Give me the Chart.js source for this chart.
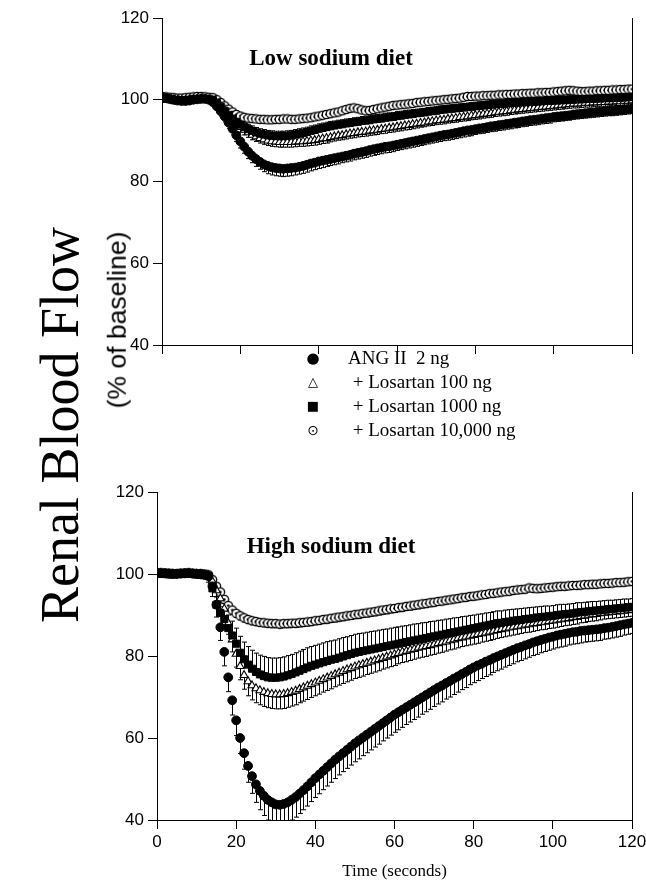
<!DOCTYPE html>
<html><head><meta charset="utf-8">
<script src="https://cdn.jsdelivr.net/npm/chart.js@4.4.1/dist/chart.umd.min.js"></script>
<style>
html,body{margin:0;padding:0;background:#fff;}
body{width:646px;height:886px;position:relative;overflow:hidden;}
canvas{position:absolute;left:0;}
#c1{top:0;} #c2{top:470px;}
.rot{position:absolute;white-space:nowrap;transform:translate(-50%,-50%) rotate(-90deg);color:#000;line-height:1;}
#ytitle{left:60px;top:425px;font-family:"Liberation Serif","Times New Roman",serif;font-size:54px;}
#ysub{left:117px;top:320px;font-family:"Liberation Sans",Arial,sans-serif;font-size:26.5px;}
.ptitle{position:absolute;font-family:"Liberation Serif","Times New Roman",serif;font-weight:bold;font-size:23px;transform:translate(-50%,-50%);white-space:nowrap;line-height:1;}
#t1{left:331px;top:57px;} #t2{left:331px;top:545px;}
#legend{position:absolute;left:300px;top:346px;font-family:"Liberation Serif","Times New Roman",serif;font-size:19px;line-height:24px;}
#legend .row{display:flex;align-items:center;height:24px;}
#legend .mk{width:26px;text-align:center;font-family:"DejaVu Sans",sans-serif;font-size:13px;margin-right:22px;}
</style></head>
<body>
<canvas id="c1" width="646" height="370"></canvas>
<canvas id="c2" width="646" height="416"></canvas>
<div id="ytitle" class="rot">Renal Blood Flow</div>
<div id="ysub" class="rot">(% of baseline)</div>
<div id="t1" class="ptitle">Low sodium diet</div>
<div id="t2" class="ptitle">High sodium diet</div>
<div id="legend">
<div class="row"><span class="mk" style="font-size:15px">●</span><span>ANG II&nbsp; 2 ng</span></div>
<div class="row"><span class="mk">△</span><span>&nbsp;+ Losartan 100 ng</span></div>
<div class="row"><span class="mk">■</span><span>&nbsp;+ Losartan 1000 ng</span></div>
<div class="row"><span class="mk" style="font-size:14px">⊙</span><span>&nbsp;+ Losartan 10,000 ng</span></div>
</div>
<script>
// ---- data ----
const seconds = [0,1,2,3,4,5,6,7,8,9,10,11,12,13,14,15,16,17,18,19,20,21,22,23,24,25,26,27,28,29,30,31,32,33,34,35,36,37,38,39,40,41,42,43,44,45,46,47,48,49,50,51,52,53,54,55,56,57,58,59,60,61,62,63,64,65,66,67,68,69,70,71,72,73,74,75,76,77,78,79,80,81,82,83,84,85,86,87,88,89,90,91,92,93,94,95,96,97,98,99,100,101,102,103,104,105,106,107,108,109,110,111,112,113,114,115,116,117,118,119,120];
const xTicks = [0,20,40,60,80,100,120];
const yTicks = [40,60,80,100,120];
const seriesNames = ["ANG II  2 ng","+ Losartan 100 ng","+ Losartan 1000 ng","+ Losartan 10,000 ng"];

// Low sodium diet
const lowAng = [100.5,100.4,100.2,100.0,99.8,99.7,99.7,99.8,100.0,100.1,
100.2,100.2,100.0,99.4,98.4,97.2,95.9,94.4,92.9,91.3,
89.8,88.5,87.3,86.3,85.5,84.8,84.2,83.8,83.5,83.3,
83.2,83.1,83.2,83.3,83.4,83.6,83.8,84.1,84.4,84.6,
84.9,85.1,85.3,85.5,85.7,85.9,86.1,86.3,86.5,86.8,
87.0,87.2,87.4,87.7,87.9,88.1,88.3,88.5,88.6,88.8,
89.0,89.2,89.4,89.6,89.8,90.0,90.2,90.4,90.6,90.8,
91.0,91.2,91.4,91.5,91.7,91.9,92.1,92.3,92.5,92.6,
92.8,93.0,93.1,93.3,93.5,93.6,93.8,93.9,94.1,94.2,
94.4,94.5,94.7,94.8,95.0,95.1,95.2,95.4,95.5,95.6,
95.8,95.9,96.0,96.1,96.2,96.4,96.5,96.6,96.7,96.8,
96.9,97.0,97.1,97.2,97.3,97.3,97.4,97.5,97.6,97.7,
97.8];
const lowAngErr = [0.6,0.6,0.6,0.6,0.6,0.6,0.6,0.6,0.6,0.6,
0.6,0.6,0.6,0.8,1.0,1.2,1.3,1.4,1.5,1.5,
1.6,1.6,1.7,1.7,1.8,1.8,1.8,1.9,1.9,1.9,
1.9,1.9,1.9,1.9,1.8,1.8,1.8,1.8,1.8,1.7,
1.7,1.7,1.6,1.6,1.6,1.6,1.5,1.5,1.5,1.5,
1.5,1.5,1.5,1.5,1.5,1.5,1.5,1.5,1.5,1.5,
1.4,1.4,1.4,1.4,1.4,1.4,1.4,1.4,1.4,1.4,
1.4,1.4,1.4,1.4,1.4,1.4,1.4,1.4,1.4,1.4,
1.3,1.3,1.3,1.3,1.3,1.3,1.3,1.3,1.3,1.3,
1.3,1.3,1.3,1.3,1.3,1.3,1.3,1.3,1.3,1.3,
1.2,1.2,1.2,1.2,1.2,1.2,1.2,1.2,1.2,1.2,
1.2,1.2,1.2,1.2,1.2,1.2,1.2,1.2,1.2,1.2,
1.2];
const lowTri = [100.4,100.3,100.1,100.0,99.9,99.8,99.9,100.0,100.1,100.2,
100.3,100.2,100.1,99.8,99.0,98.0,97.0,96.0,95.0,94.1,
93.3,92.6,92.0,91.4,91.0,90.6,90.3,90.0,89.8,89.7,
89.6,89.6,89.6,89.6,89.7,89.8,89.8,89.9,90.0,90.1,
90.3,90.5,90.6,90.8,91.0,91.2,91.3,91.5,91.7,91.8,
92.0,92.1,92.2,92.4,92.5,92.6,92.8,92.9,93.1,93.2,
93.4,93.5,93.7,93.8,94.0,94.1,94.3,94.4,94.6,94.7,
94.9,95.0,95.1,95.3,95.4,95.5,95.7,95.8,95.9,96.1,
96.2,96.3,96.5,96.6,96.7,96.9,97.0,97.1,97.2,97.4,
97.5,97.6,97.7,97.8,97.9,98.0,98.1,98.2,98.3,98.4,
98.5,98.6,98.7,98.8,98.9,99.0,99.0,99.1,99.2,99.2,
99.3,99.3,99.4,99.4,99.5,99.5,99.6,99.6,99.7,99.7,
99.8];
const lowTriErr = [0.5,0.5,0.5,0.5,0.5,0.5,0.5,0.5,0.5,0.5,
0.5,0.5,0.5,0.6,0.8,0.9,1.0,1.1,1.2,1.2,
1.2,1.2,1.2,1.2,1.2,1.2,1.2,1.2,1.2,1.2,
1.2,1.2,1.2,1.2,1.2,1.2,1.2,1.2,1.2,1.2,
1.2,1.2,1.2,1.1,1.1,1.1,1.1,1.1,1.1,1.1,
1.1,1.1,1.1,1.1,1.1,1.1,1.1,1.1,1.1,1.1,
1.1,1.1,1.1,1.1,1.1,1.0,1.0,1.0,1.0,1.0,
1.0,1.0,1.0,1.0,1.0,1.0,1.0,1.0,1.0,1.0,
1.0,1.0,1.0,1.0,1.0,1.0,1.0,1.0,1.0,1.0,
1.0,1.0,1.0,1.0,1.0,1.0,1.0,1.0,1.0,1.0,
1.0,1.0,1.0,1.0,1.0,1.0,1.0,1.0,1.0,1.0,
1.0,1.0,1.0,1.0,1.0,1.0,1.0,1.0,1.0,1.0,
1.0];
const lowSq = [100.3,100.2,100.1,99.9,99.8,99.8,99.9,100.0,100.1,100.2,
100.2,100.2,100.1,99.9,99.2,98.3,97.3,96.3,95.4,94.6,
93.9,93.3,92.8,92.4,92.0,91.7,91.5,91.3,91.2,91.1,
91.1,91.1,91.2,91.3,91.5,91.7,91.9,92.1,92.4,92.6,
92.9,93.1,93.3,93.5,93.7,93.9,94.0,94.2,94.3,94.5,
94.6,94.8,94.9,95.0,95.2,95.3,95.4,95.6,95.7,95.8,
96.0,96.1,96.3,96.4,96.5,96.7,96.8,96.9,97.1,97.2,
97.3,97.5,97.6,97.7,97.8,97.9,98.0,98.1,98.2,98.3,
98.4,98.5,98.6,98.7,98.8,98.9,99.0,99.0,99.1,99.2,
99.3,99.3,99.4,99.4,99.5,99.5,99.6,99.6,99.7,99.7,
99.8,99.8,99.9,99.9,100.0,100.0,100.1,100.1,100.2,100.2,
100.2,100.3,100.3,100.4,100.4,100.4,100.5,100.5,100.6,100.6,
100.7];
const lowSqErr = [0.5,0.5,0.5,0.5,0.5,0.5,0.5,0.5,0.5,0.5,
0.5,0.5,0.5,0.6,0.8,0.9,1.0,1.1,1.2,1.2,
1.2,1.2,1.2,1.2,1.2,1.2,1.2,1.2,1.2,1.2,
1.2,1.2,1.2,1.2,1.2,1.2,1.2,1.2,1.2,1.2,
1.2,1.2,1.2,1.2,1.1,1.1,1.1,1.1,1.1,1.1,
1.1,1.1,1.1,1.1,1.1,1.1,1.1,1.1,1.1,1.1,
1.1,1.1,1.1,1.1,1.1,1.0,1.0,1.0,1.0,1.0,
1.0,1.0,1.0,1.0,1.0,1.0,1.0,1.0,1.0,1.0,
1.0,1.0,1.0,1.0,1.0,1.0,1.0,1.0,1.0,1.0,
1.0,1.0,1.0,1.0,1.0,1.0,1.0,1.0,1.0,1.0,
1.0,1.0,1.0,1.0,1.0,1.0,1.0,1.0,1.0,1.0,
1.0,1.0,1.0,1.0,1.0,1.0,1.0,1.0,1.0,1.0,
1.0];
const lowCd = [100.8,100.7,100.6,100.5,100.4,100.4,100.5,100.6,100.7,100.8,
100.8,100.7,100.6,100.5,100.0,99.3,98.5,97.7,97.0,96.4,
96.0,95.7,95.5,95.4,95.3,95.2,95.2,95.1,95.1,95.2,
95.2,95.3,95.3,95.2,95.2,95.3,95.4,95.5,95.6,95.8,
96.0,96.2,96.4,96.6,96.8,97.0,97.3,97.6,97.9,98.0,
97.8,97.5,97.3,97.4,97.6,97.8,98.0,98.2,98.4,98.6,
98.7,98.8,98.9,99.0,99.1,99.3,99.4,99.5,99.6,99.7,
99.8,99.9,100.0,100.1,100.2,100.3,100.4,100.6,100.8,100.8,
100.9,100.9,101.0,101.0,101.1,101.1,101.2,101.2,101.3,101.3,
101.4,101.4,101.5,101.5,101.6,101.6,101.7,101.7,101.8,101.8,
101.9,102.0,102.1,102.2,102.3,102.2,102.1,102.0,102.0,102.1,
102.1,102.2,102.2,102.3,102.3,102.4,102.4,102.5,102.5,102.6,
102.6];
const lowCdErr = [0.5,0.5,0.5,0.5,0.5,0.5,0.5,0.5,0.5,0.5,
0.5,0.5,0.5,0.5,0.6,0.7,0.7,0.8,0.8,0.8,
0.8,0.8,0.8,0.8,0.8,0.8,0.8,0.8,0.8,0.8,
0.8,0.8,0.8,0.8,0.8,0.8,0.8,0.8,0.8,0.8,
0.8,0.8,0.8,0.8,0.8,0.8,0.8,0.8,0.8,0.8,
0.8,0.8,0.8,0.8,0.8,0.8,0.8,0.8,0.8,0.8,
0.8,0.8,0.8,0.8,0.8,0.8,0.8,0.8,0.8,0.8,
0.7,0.7,0.7,0.7,0.7,0.7,0.7,0.7,0.7,0.7,
0.7,0.7,0.7,0.7,0.7,0.7,0.7,0.7,0.7,0.7,
0.7,0.7,0.7,0.7,0.7,0.7,0.7,0.7,0.7,0.7,
0.7,0.7,0.7,0.7,0.7,0.7,0.7,0.7,0.7,0.7,
0.7,0.7,0.7,0.7,0.7,0.7,0.7,0.7,0.7,0.7,
0.7];

// High sodium diet
const highAng = [100.3,100.2,100.2,100.1,100.0,100.0,100.1,100.2,100.2,100.1,
100.0,99.9,99.8,99.5,97.0,92.5,87.0,81.0,74.8,69.2,
64.3,60.0,56.3,53.2,50.7,48.7,47.1,45.9,44.9,44.3,
43.8,43.7,43.9,44.3,44.9,45.6,46.4,47.3,48.2,49.2,
50.2,51.1,52.0,52.9,53.8,54.7,55.5,56.3,57.1,57.9,
58.7,59.4,60.1,60.8,61.5,62.2,62.9,63.6,64.3,65.0,
65.7,66.3,66.9,67.5,68.1,68.7,69.3,69.9,70.5,71.1,
71.7,72.3,72.8,73.4,73.9,74.5,75.0,75.6,76.1,76.7,
77.2,77.7,78.1,78.6,79.0,79.5,79.9,80.3,80.7,81.1,
81.5,81.9,82.2,82.6,82.9,83.3,83.6,83.9,84.2,84.5,
84.7,85.0,85.2,85.4,85.6,85.8,85.9,86.1,86.2,86.3,
86.4,86.5,86.6,86.8,86.9,87.1,87.3,87.5,87.7,87.9,
88.1];
const highAngErr = [0.8,0.8,0.8,0.8,0.8,0.8,0.8,0.8,0.8,0.8,
0.8,0.8,0.9,1.5,2.5,3.0,3.2,3.4,3.5,3.6,
3.7,3.8,3.9,4.0,4.2,4.4,4.6,4.8,4.9,5.0,
5.0,5.0,5.0,5.0,4.9,4.9,4.8,4.8,4.8,4.7,
4.7,4.7,4.6,4.6,4.6,4.6,4.5,4.5,4.5,4.5,
4.5,4.5,4.4,4.4,4.4,4.4,4.4,4.3,4.3,4.3,
4.3,4.3,4.3,4.2,4.2,4.2,4.2,4.1,4.1,4.1,
4.0,4.0,4.0,3.9,3.9,3.9,3.8,3.8,3.8,3.7,
3.7,3.7,3.6,3.6,3.6,3.5,3.5,3.5,3.4,3.4,
3.4,3.3,3.3,3.3,3.2,3.2,3.2,3.1,3.1,3.1,
3.0,3.0,3.0,3.0,2.9,2.9,2.9,2.9,2.8,2.8,
2.8,2.8,2.8,2.7,2.7,2.7,2.7,2.7,2.6,2.6,
2.6];
const highTri = [100.2,100.1,100.1,100.0,100.0,99.9,100.0,100.1,100.1,100.0,
100.0,99.9,99.8,99.6,98.2,96.0,94.0,91.5,88.0,84.0,
80.5,77.5,75.3,73.8,72.8,72.1,71.6,71.2,70.9,70.7,
70.6,70.6,70.7,70.9,71.2,71.5,71.9,72.3,72.7,73.1,
73.5,73.9,74.3,74.7,75.1,75.5,75.9,76.3,76.7,77.0,
77.4,77.7,78.0,78.3,78.6,78.9,79.2,79.5,79.8,80.1,
80.4,80.7,81.0,81.2,81.5,81.7,82.0,82.2,82.4,82.6,
82.8,83.1,83.3,83.5,83.8,84.0,84.3,84.5,84.7,84.9,
85.1,85.3,85.5,85.7,85.9,86.1,86.3,86.5,86.7,86.9,
87.1,87.2,87.4,87.6,87.7,87.9,88.0,88.2,88.3,88.5,
88.6,88.8,88.9,89.1,89.2,89.4,89.5,89.7,89.8,90.0,
90.1,90.2,90.4,90.5,90.6,90.7,90.8,90.9,91.0,91.1,
91.2];
const highTriErr = [0.5,0.5,0.5,0.5,0.5,0.5,0.5,0.5,0.5,0.5,
0.5,0.5,0.6,0.8,1.2,1.6,2.0,2.4,2.7,3.0,
3.2,3.3,3.4,3.5,3.5,3.5,3.5,3.5,3.5,3.5,
3.5,3.5,3.5,3.4,3.4,3.4,3.3,3.3,3.3,3.2,
3.2,3.2,3.1,3.1,3.1,3.0,3.0,3.0,3.0,2.9,
2.9,2.9,2.9,2.8,2.8,2.8,2.8,2.7,2.7,2.7,
2.7,2.6,2.6,2.6,2.6,2.5,2.5,2.5,2.5,2.4,
2.4,2.4,2.4,2.3,2.3,2.3,2.3,2.2,2.2,2.2,
2.2,2.2,2.1,2.1,2.1,2.1,2.0,2.0,2.0,2.0,
2.0,1.9,1.9,1.9,1.9,1.9,1.8,1.8,1.8,1.8,
1.8,1.8,1.7,1.7,1.7,1.7,1.7,1.6,1.6,1.6,
1.6,1.6,1.6,1.5,1.5,1.5,1.5,1.5,1.5,1.5,
1.5];
const highSq = [100.1,100.0,100.0,99.9,99.9,100.0,100.0,100.1,100.0,100.0,
99.9,99.8,99.7,99.5,96.5,92.5,90.5,89.0,86.8,85.0,
83.0,80.8,79.2,77.9,76.9,76.1,75.5,75.1,74.8,74.7,
74.7,74.8,75.0,75.3,75.6,76.0,76.4,76.8,77.2,77.6,
77.9,78.2,78.5,78.8,79.1,79.3,79.6,79.9,80.2,80.5,
80.8,81.0,81.2,81.4,81.6,81.8,82.0,82.2,82.4,82.6,
82.8,83.0,83.2,83.4,83.6,83.8,84.0,84.2,84.4,84.6,
84.8,85.0,85.2,85.4,85.6,85.8,86.0,86.2,86.4,86.6,
86.8,87.0,87.2,87.4,87.6,87.8,88.0,88.1,88.3,88.4,
88.6,88.7,88.8,89.0,89.1,89.2,89.4,89.5,89.6,89.7,
89.8,90.0,90.1,90.2,90.3,90.4,90.6,90.7,90.8,90.9,
91.0,91.1,91.2,91.3,91.4,91.5,91.6,91.7,91.8,91.9,
92.0];
const highSqErr = [0.5,0.5,0.5,0.5,0.5,0.5,0.5,0.5,0.5,0.5,
0.5,0.5,0.6,0.8,1.5,2.0,2.4,2.8,3.2,3.5,
3.8,4.0,4.2,4.4,4.5,4.6,4.7,4.8,4.8,4.8,
4.8,4.8,4.8,4.8,4.8,4.8,4.8,4.8,4.8,4.7,
4.7,4.7,4.7,4.7,4.6,4.6,4.6,4.6,4.5,4.5,
4.5,4.5,4.4,4.4,4.4,4.3,4.3,4.3,4.2,4.2,
4.2,4.1,4.1,4.0,4.0,4.0,3.9,3.9,3.8,3.8,
3.7,3.7,3.6,3.6,3.5,3.5,3.4,3.4,3.3,3.3,
3.2,3.2,3.1,3.1,3.0,3.0,3.0,2.9,2.9,2.9,
2.8,2.8,2.8,2.7,2.7,2.7,2.6,2.6,2.6,2.5,
2.5,2.5,2.5,2.4,2.4,2.4,2.4,2.3,2.3,2.3,
2.3,2.2,2.2,2.2,2.2,2.1,2.1,2.1,2.1,2.0,
2.0];
const highCd = [100.3,100.3,100.2,100.2,100.1,100.1,100.2,100.2,100.3,100.2,
100.1,100.1,100.0,99.8,98.6,97.0,95.6,93.8,92.3,91.2,
90.4,89.8,89.3,88.9,88.6,88.4,88.2,88.1,88.0,87.9,
87.9,87.8,87.9,87.9,88.0,88.0,88.1,88.2,88.3,88.4,
88.6,88.7,88.9,89.0,89.2,89.3,89.5,89.6,89.8,89.9,
90.1,90.2,90.4,90.5,90.7,90.8,91.0,91.2,91.3,91.5,
91.6,91.8,91.9,92.1,92.2,92.4,92.5,92.7,92.8,93.0,
93.1,93.3,93.4,93.6,93.7,93.9,94.0,94.2,94.3,94.5,
94.6,94.7,94.9,95.0,95.2,95.3,95.4,95.6,95.7,95.8,
96.0,96.1,96.2,96.3,96.6,96.5,96.4,96.5,96.6,96.7,
96.8,96.9,97.0,97.0,97.1,97.2,97.2,97.3,97.4,97.4,
97.5,97.5,97.6,97.7,97.7,97.8,97.9,97.9,98.0,98.1,
98.2];
const highCdErr = [0.5,0.5,0.5,0.5,0.5,0.5,0.5,0.5,0.5,0.5,
0.5,0.5,0.5,0.6,0.8,0.9,1.0,1.0,1.0,1.0,
1.0,1.0,1.0,1.0,1.0,1.0,1.0,1.0,1.0,1.0,
1.0,1.0,1.0,1.0,1.0,1.0,1.0,1.0,1.0,1.0,
1.0,1.0,1.0,1.0,1.0,1.0,1.0,1.0,1.0,1.0,
1.0,1.0,1.0,1.0,1.0,1.0,1.0,1.0,1.0,1.0,
1.0,1.0,1.0,1.0,1.0,1.0,1.0,1.0,1.0,1.0,
0.9,0.9,0.9,0.9,0.9,0.9,0.9,0.9,0.9,0.9,
0.9,0.9,0.9,0.9,0.9,0.9,0.9,0.9,0.9,0.9,
0.9,0.9,0.9,0.9,0.9,0.9,0.9,0.9,0.9,0.9,
0.9,0.9,0.9,0.9,0.9,0.9,0.9,0.9,0.9,0.9,
0.9,0.9,0.9,0.9,0.9,0.9,0.9,0.9,0.9,0.9,
0.9];

// ---- markers ----
function dotCircle(){
  const c=document.createElement('canvas'); c.width=11; c.height=11;
  const g=c.getContext('2d');
  g.fillStyle='#fff'; g.strokeStyle='#000'; g.lineWidth=1.3;
  g.beginPath(); g.arc(5.5,5.5,4.2,0,Math.PI*2); g.fill(); g.stroke();
  g.fillStyle='#000'; g.beginPath(); g.arc(5.5,5.5,1.3,0,Math.PI*2); g.fill();
  return c;
}
const cdImg = dotCircle();

function pts(vals){ return seconds.map((t,i)=>({x:t,y:vals[i]})); }

function makeSets(ang,angE,tri,triE,sq,sqE,cd,cdE){
  return [
    {label:seriesNames[0],data:pts(ang),errors:angE,errDir:-1,pointStyle:'circle',pointRadius:4.4,backgroundColor:'#000',borderColor:'#000',borderWidth:1,order:0},
    {label:seriesNames[1],data:pts(tri),errors:triE,errDir:-1,pointStyle:'triangle',pointRadius:4.6,backgroundColor:'#fff',borderColor:'#000',borderWidth:1.1,order:2},
    {label:seriesNames[2],data:pts(sq),errors:sqE,errDir:1,pointStyle:'rect',pointRadius:5,backgroundColor:'#000',borderColor:'#000',borderWidth:1,order:1},
    {label:seriesNames[3],data:pts(cd),errors:cdE,errDir:-1,pointStyle:cdImg,pointRadius:4.5,backgroundColor:'#fff',borderColor:'#000',borderWidth:1,order:3}
  ];
}

const errorBars = {
  id:'errorBars',
  beforeDatasetsDraw(chart){
    const {ctx, chartArea:a, scales:{x,y}} = chart;
    ctx.save();
    ctx.beginPath(); ctx.rect(a.left,a.top,a.right-a.left,a.bottom-a.top); ctx.clip();
    ctx.strokeStyle='#000'; ctx.lineWidth=1;
    chart.data.datasets.forEach(ds=>{
      ds.data.forEach((p,i)=>{
        const e=ds.errors[i]; if(!e) return;
        const px=Math.round(x.getPixelForValue(p.x))+0.5;
        const p0=y.getPixelForValue(p.y), p1=y.getPixelForValue(p.y+ds.errDir*e);
        ctx.beginPath(); ctx.moveTo(px,p0); ctx.lineTo(px,p1);
        ctx.moveTo(px-2.5,p1); ctx.lineTo(px+2.5,p1); ctx.stroke();
      });
    });
    ctx.restore();
  }
};
const rightBorder = {
  id:'rightBorder',
  afterDraw(chart){
    const {ctx, chartArea:a} = chart;
    ctx.save(); ctx.strokeStyle='#000'; ctx.lineWidth=1;
    ctx.beginPath(); ctx.moveTo(a.right+0.5,a.top); ctx.lineTo(a.right+0.5,a.bottom); ctx.stroke();
    ctx.restore();
  }
};

function makeChart(id, sets, opts){
  return new Chart(document.getElementById(id), {
    type:'scatter',
    data:{datasets:sets},
    plugins:[errorBars,rightBorder],
    options:{
      responsive:false, animation:false, devicePixelRatio:1,
      layout:{padding:{top:opts.padTop,right:14,left:0,bottom:0}},
      plugins:{legend:{display:false},tooltip:{enabled:false}},
      scales:{
        x:{type:'linear',min:0,max:120,
          afterBuildTicks(s){ s.ticks = xTicks.map(v=>({value:v})); },
          afterFit(s){ s.height=opts.xHeight; s.paddingLeft=0; s.paddingRight=0; },
          grid:{drawOnChartArea:false,drawTicks:true,tickLength:9,color:'#000',lineWidth:1},
          border:{display:true,color:'#000',width:1},
          ticks:{display:opts.xLabels,color:'#000',padding:3,maxRotation:0,font:{family:'"Liberation Sans", Arial, sans-serif',size:17}},
          title:{display:opts.xLabels,text:'Time (seconds)',color:'#000',padding:{top:0,bottom:4},font:{family:'"Liberation Serif", "Times New Roman", serif',size:17}}
        },
        y:{type:'linear',min:40,max:120,
          afterBuildTicks(s){ s.ticks = yTicks.map(v=>({value:v})); },
          afterFit(s){ s.width=opts.yWidth; s.paddingTop=0; s.paddingBottom=0; },
          grid:{drawOnChartArea:false,drawTicks:true,tickLength:9,color:'#000',lineWidth:1},
          border:{display:true,color:'#000',width:1},
          ticks:{color:'#000',padding:opts.yPad,font:{family:'"Liberation Sans", Arial, sans-serif',size:17}}
        }
      }
    }
  });
}

makeChart('c1', makeSets(lowAng,lowAngErr,lowTri,lowTriErr,lowSq,lowSqErr,lowCd,lowCdErr),
  {padTop:18,xHeight:25,yWidth:162,xLabels:false,yPad:4});
makeChart('c2', makeSets(highAng,highAngErr,highTri,highTriErr,highSq,highSqErr,highCd,highCdErr),
  {padTop:22,xHeight:66,yWidth:157,xLabels:true,yPad:4});
</script>
</body></html>
